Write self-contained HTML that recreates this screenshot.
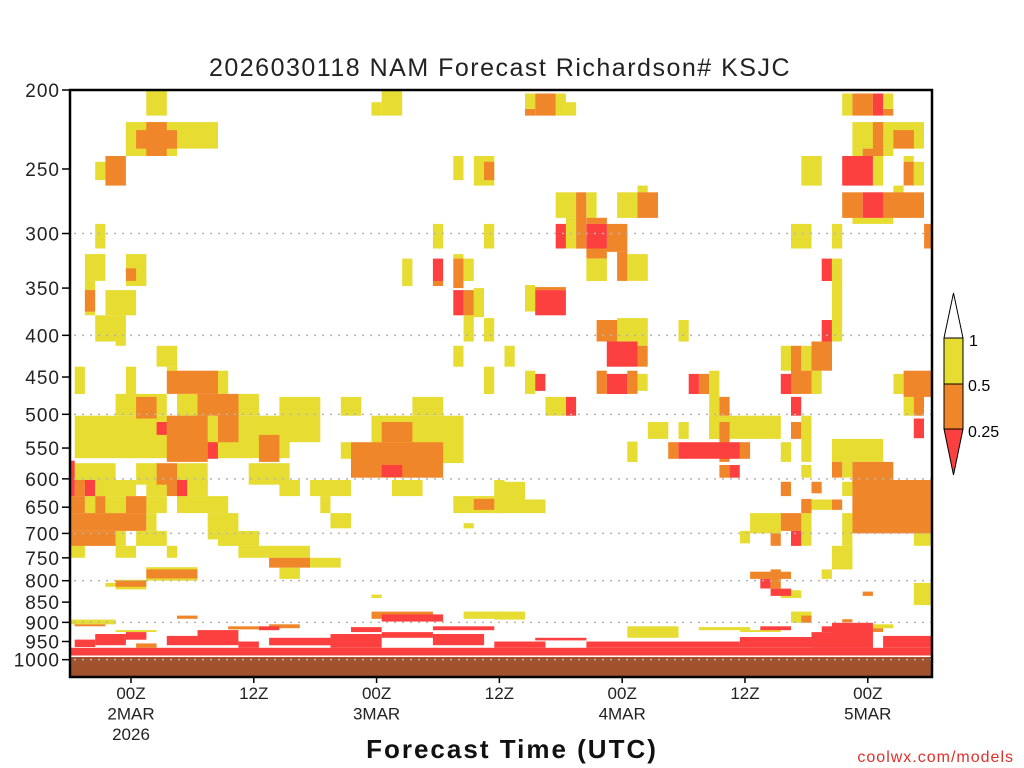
<!DOCTYPE html>
<html><head><meta charset="utf-8"><style>
html,body{margin:0;padding:0;background:#fff;}
svg{display:block;font-family:"Liberation Sans",sans-serif;}
</style></head><body>
<svg id="chart" width="1024" height="768" viewBox="0 0 1024 768" xmlns="http://www.w3.org/2000/svg">
<rect x="0" y="0" width="1024" height="768" fill="#fff"/>
<text x="500" y="76" text-anchor="middle" font-size="25" fill="#222" letter-spacing="1.5">2026030118 NAM Forecast Richardson# KSJC</text>
<g id="cells"></g>
<g id="grid"></g>
<g id="axes"></g>
<text x="512" y="758" text-anchor="middle" font-size="26" fill="#111" letter-spacing="2" font-weight="bold">Forecast Time (UTC)</text>
<text x="1014" y="762" text-anchor="end" font-size="16" fill="#e0302a" letter-spacing="1">coolwx.com/models</text>
<g>
<polygon points="944,338 953.5,293 963,338" fill="#fff" stroke="#000" stroke-width="1"/>
<rect x="944" y="338" width="19" height="46" fill="#E6DC32" stroke="#000"/>
<rect x="944" y="384" width="19" height="45" fill="#F0862A" stroke="#000"/>
<polygon points="944,429 963,429 953.5,475" fill="#FC4040" stroke="#000"/>
<text x="969" y="346" font-size="16">1</text>
<text x="968" y="391" font-size="16">0.5</text>
<text x="968" y="437" font-size="16">0.25</text>
</g>
</svg>
<script>
// Data
const pressureTicks = [200,250,300,350,400,450,500,550,600,650,700,750,800,850,900,950,1000];
const gridLevels = [300,400,500,600,700,800,900,1000];
const timeTickHours = [6,18,30,42,54,66,78];
const timeTickLabels = [["00Z","2MAR","2026"],["12Z"],["00Z","3MAR"],["12Z"],["00Z","4MAR"],["12Z"],["00Z","5MAR"]];
const categoryColors = {y:"#E6DC32", o:"#F0862A", r:"#FC4040"};
// cells: [startHour, endHour, pTop, pBottom, category]
const cells = [
[8,9,200,215,"y"],[31,32,200,215,"y"],[30,30,207,215,"y"],[6,14,219,236,"y"],[6,10,219,241,"y"],
[7,10,224,236,"o"],[8,9,219,241,"o"],[3,3,245,258,"y"],[4,5,241,262,"o"],[38,38,241,258,"y"],
[40,41,241,262,"y"],[41,41,245,258,"o"],[3,3,292,313,"y"],[2,3,318,343,"y"],[2,2,343,350,"y"],
[6,7,318,348,"y"],[6,6,331,343,"o"],[33,33,322,348,"y"],[36,36,292,313,"y"],[36,36,322,343,"r"],
[36,36,343,348,"o"],[38,38,318,322,"y"],[38,38,322,350,"o"],[39,39,322,343,"y"],[41,41,292,313,"y"],
[45,45,202,211,"y"],[45,45,211,215,"o"],[46,47,202,215,"o"],[48,48,202,215,"y"],[49,49,207,215,"y"],
[76,76,202,215,"y"],[77,78,202,215,"o"],[79,79,202,215,"r"],[80,80,202,211,"y"],[80,80,211,215,"o"],
[77,83,219,236,"y"],[79,79,219,241,"o"],[81,82,224,236,"o"],[78,79,236,241,"o"],[77,77,236,241,"y"],
[80,80,236,241,"y"],[76,78,241,262,"r"],[79,79,241,262,"y"],[82,82,241,245,"y"],[82,82,245,262,"o"],
[83,83,245,262,"y"],[72,73,241,262,"y"],
[48,49,267,287,"y"],[50,50,267,313,"o"],[51,51,267,287,"y"],[54,55,267,287,"y"],[56,57,267,287,"o"],
[56,56,262,267,"y"],[48,48,292,313,"r"],[49,49,287,313,"y"],[51,52,287,292,"o"],[51,52,292,313,"r"],
[51,52,313,322,"o"],[53,54,292,316,"o"],[54,54,316,343,"o"],[55,56,318,343,"y"],[51,52,322,343,"y"],
[71,72,292,313,"y"],[75,75,292,313,"y"],[74,74,322,343,"r"],[75,75,322,350,"y"],[76,77,267,287,"o"],
[78,79,267,287,"r"],[80,83,267,287,"o"],[81,81,262,267,"y"],[77,80,287,292,"y"],[84,84,292,313,"o"],
[2,2,347,378,"y"],[2,2,352,374,"o"],[4,6,352,378,"y"],[3,5,378,407,"y"],[5,5,407,412,"y"],
[38,38,352,378,"r"],[39,39,352,378,"o"],[40,40,350,380,"y"],[39,39,378,407,"y"],[41,41,381,407,"y"],
[38,38,412,437,"y"],[41,41,437,472,"y"],
[9,10,412,437,"y"],[10,10,437,442,"y"],[1,1,437,472,"y"],[6,6,437,472,"y"],[15,15,442,472,"y"],
[10,14,442,472,"o"],[5,9,472,502,"y"],[7,8,476,506,"o"],[11,12,472,502,"y"],[15,16,472,541,"o"],
[17,18,472,502,"y"],[1,21,502,566,"y"],[19,20,530,572,"o"],[10,13,502,572,"o"],[13,14,472,502,"o"],
[9,9,511,530,"r"],[14,14,541,567,"r"],[21,24,476,541,"y"],[27,28,476,502,"y"],[34,36,476,502,"y"],
[30,38,502,574,"y"],[31,33,511,541,"o"],[28,36,541,598,"o"],[27,27,541,567,"y"],[31,32,577,597,"r"],
[0,0,570,610,"r"],[1,4,574,610,"y"],[9,10,574,610,"o"],[7,8,574,610,"y"],[11,13,574,610,"y"],
[18,21,574,610,"y"],
[45,45,347,374,"y"],[46,48,352,378,"r"],[46,48,349,352,"o"],[52,53,383,407,"o"],[54,56,381,412,"y"],
[53,55,407,437,"r"],[56,56,412,437,"o"],[52,52,442,472,"o"],[53,54,446,472,"r"],[55,55,442,472,"o"],
[56,56,446,468,"y"],[60,60,383,407,"y"],[43,43,412,437,"y"],[45,45,442,472,"y"],[46,46,446,468,"r"],
[47,48,476,502,"y"],[49,49,476,502,"r"],[74,74,383,407,"r"],[75,75,347,407,"y"],[70,70,412,442,"y"],
[71,71,412,472,"o"],[72,72,412,442,"y"],[73,74,407,442,"o"],[70,70,446,472,"r"],[71,72,442,472,"o"],
[73,73,442,472,"y"],[71,71,476,502,"r"],[61,61,446,472,"r"],[62,62,446,472,"o"],[63,63,442,536,"y"],
[64,64,476,502,"o"],[81,81,446,472,"y"],[82,84,442,476,"o"],[82,82,472,502,"y"],[83,83,472,502,"o"],
[83,83,506,535,"r"],[57,58,511,536,"y"],[60,60,511,536,"y"],[63,69,502,536,"y"],[64,64,511,572,"o"],
[71,71,511,536,"o"],[72,72,502,572,"y"],[55,55,540,572,"y"],[59,59,541,567,"o"],[60,65,541,567,"r"],
[66,66,541,567,"o"],[70,70,541,572,"y"],[72,72,577,598,"y"],[64,64,577,598,"o"],[65,65,577,598,"r"],
[75,79,536,572,"y"],[75,75,572,598,"o"],[76,76,572,598,"y"],[77,80,572,610,"o"],
[0,0,602,630,"r"],[1,1,602,630,"o"],[2,2,602,630,"r"],[3,6,602,630,"y"],[8,9,602,630,"y"],
[10,10,602,630,"o"],[11,11,602,630,"r"],[12,13,602,630,"y"],[0,1,630,661,"o"],[2,2,630,661,"y"],
[3,3,630,661,"o"],[4,5,630,661,"y"],[6,7,630,661,"o"],[8,9,630,661,"y"],[11,15,630,661,"y"],
[0,7,661,695,"o"],[8,8,661,695,"y"],[14,16,661,712,"y"],[0,4,695,725,"o"],[5,5,695,725,"y"],
[7,9,695,725,"y"],[15,18,695,725,"y"],[0,1,725,750,"y"],[5,6,725,750,"y"],[10,10,725,750,"y"],
[17,23,725,750,"y"],[20,26,750,771,"y"],[20,23,750,771,"o"],[21,22,771,796,"y"],[8,12,770,800,"y"],
[8,12,775,795,"o"],[5,7,798,820,"y"],[5,7,800,814,"o"],[4,4,805,814,"y"],[30,30,832,840,"y"],
[21,22,602,630,"y"],[24,27,602,630,"y"],[25,25,630,661,"y"],[26,27,661,690,"y"],[32,34,602,630,"y"],
[38,41,630,661,"y"],[40,41,635,655,"o"],[39,39,680,690,"y"],[42,42,602,661,"y"],
[42,44,605,661,"y"],[45,46,636,661,"y"],[70,70,605,630,"o"],[73,73,605,625,"o"],[72,72,635,661,"o"],
[73,74,636,655,"y"],[75,75,636,655,"o"],[77,84,602,700,"o"],[76,76,605,630,"y"],[76,76,661,725,"y"],
[77,77,640,680,"y"],[81,82,605,640,"y"],[83,84,700,725,"y"],[67,69,661,700,"y"],[70,71,661,695,"o"],
[72,72,640,725,"y"],[71,71,695,725,"r"],[69,69,700,725,"o"],[66,66,695,720,"y"],[75,76,725,775,"y"],
[74,74,775,796,"y"],[67,70,780,796,"o"],[68,68,796,818,"r"],[69,69,775,818,"o"],[69,70,818,835,"r"],
[70,71,822,840,"y"],[78,78,825,835,"o"],[83,84,805,857,"y"],[42,44,873,893,"y"],[71,72,873,901,"y"],
[72,72,883,901,"o"],
[30,35,873,891,"o"],[31,36,880,898,"r"],[11,12,883,891,"o"],[39,42,873,891,"y"],
[0,84,967,994,"r"],[1,2,945,965,"r"],[3,5,930,960,"r"],[6,7,925,945,"r"],[7,8,955,967,"o"],
[10,12,935,960,"r"],[13,16,920,960,"r"],[14,15,945,955,"o"],[17,18,950,967,"r"],[19,20,910,920,"r"],
[20,22,905,915,"o"],[20,25,940,960,"r"],[26,30,930,967,"r"],[28,30,912,925,"r"],[31,35,925,940,"r"],[36,40,930,960,"r"],
[36,41,910,920,"r"],[0,4,893,905,"y"],[1,3,905,910,"o"],[16,18,910,918,"o"],[5,8,920,925,"y"],
[42,46,950,967,"r"],[46,50,940,947,"r"],[51,65,950,967,"r"],[66,74,938,967,"r"],[73,78,925,967,"r"],[74,77,910,925,"r"],
[76,79,915,925,"o"],[80,84,935,967,"r"],[78,80,905,915,"y"],[55,59,910,940,"y"],[62,66,912,920,"y"],
[68,70,910,920,"r"],[66,69,920,925,"y"],[75,78,901,967,"r"],[76,76,892,900,"o"]
];

const NS = "http://www.w3.org/2000/svg";
const X0 = 69.6, HOURPX = 10.233, PLOT_L = 70, PLOT_R = 932, PLOT_T = 90, PLOT_B = 677;
function xScale(h){ return X0 + h*HOURPX; }
function yScale(p){ return PLOT_T + 815*Math.log10(p/200); }
function mk(tag, attrs){ const e=document.createElementNS(NS,tag); for(const k in attrs) e.setAttribute(k,attrs[k]); return e; }

const cellG = document.getElementById("cells");
const order = {y:0,o:1,r:2};
cells.slice().sort((a,b)=>order[a[4]]-order[b[4]]).forEach(c=>{
  let x1 = Math.max(PLOT_L, xScale(c[0]-0.5)), x2 = Math.min(PLOT_R, xScale(c[1]+0.5));
  const y1 = yScale(c[2]), y2 = yScale(c[3]);
  const r = mk("rect",{x:x1.toFixed(1),y:y1.toFixed(1),width:(x2-x1).toFixed(1),height:(y2-y1).toFixed(1),fill:categoryColors[c[4]]});
  
  
  cellG.appendChild(r);
});
// terrain
const terrain = mk("rect",{x:PLOT_L,y:(yScale(1000)-2.5).toFixed(1),width:PLOT_R-PLOT_L,height:(PLOT_B-yScale(1000)+2.5).toFixed(1),fill:"#A0522D"});


cellG.appendChild(terrain);
const sep = mk("line",{x1:PLOT_L,x2:PLOT_R,y1:(yScale(1000)-3.5).toFixed(1),y2:(yScale(1000)-3.5).toFixed(1),stroke:"#fff","stroke-width":1.5});


cellG.appendChild(sep);

const gridG = document.getElementById("grid");
gridLevels.forEach(p=>{
  const y = yScale(p);
  const l = mk("line",{x1:PLOT_L+4,x2:PLOT_R,y1:y,y2:y,stroke:"#b4b4b4","stroke-width":1.5,"stroke-dasharray":"2,6"});
  
  
  gridG.appendChild(l);
});

const axG = document.getElementById("axes");
const frame = mk("rect",{x:PLOT_L,y:PLOT_T,width:PLOT_R-PLOT_L,height:PLOT_B-PLOT_T,fill:"none",stroke:"#000","stroke-width":2.5});


axG.appendChild(frame);
pressureTicks.forEach(p=>{
  const y = yScale(p);
  const t = mk("line",{x1:PLOT_L-8,x2:PLOT_L,y1:y,y2:y,stroke:"#000","stroke-width":1.5});
  
  
  axG.appendChild(t);
  const lb = mk("text",{x:PLOT_L-10,y:y+7,"text-anchor":"end","font-size":19,fill:"#222","letter-spacing":1});
  lb.textContent = p;
  
  
  axG.appendChild(lb);
});
timeTickHours.forEach((h,i)=>{
  const x = xScale(h);
  const t = mk("line",{x1:x,x2:x,y1:PLOT_B,y2:PLOT_B+6,stroke:"#000","stroke-width":1.5});
  
  
  axG.appendChild(t);
  timeTickLabels[i].forEach((s,j)=>{
    const lb = mk("text",{x:x,y:PLOT_B+22+j*20.5,"text-anchor":"middle","font-size":17,fill:"#222"});
    lb.textContent = s;
    
    
    axG.appendChild(lb);
  });
});
</script>
</body></html>
